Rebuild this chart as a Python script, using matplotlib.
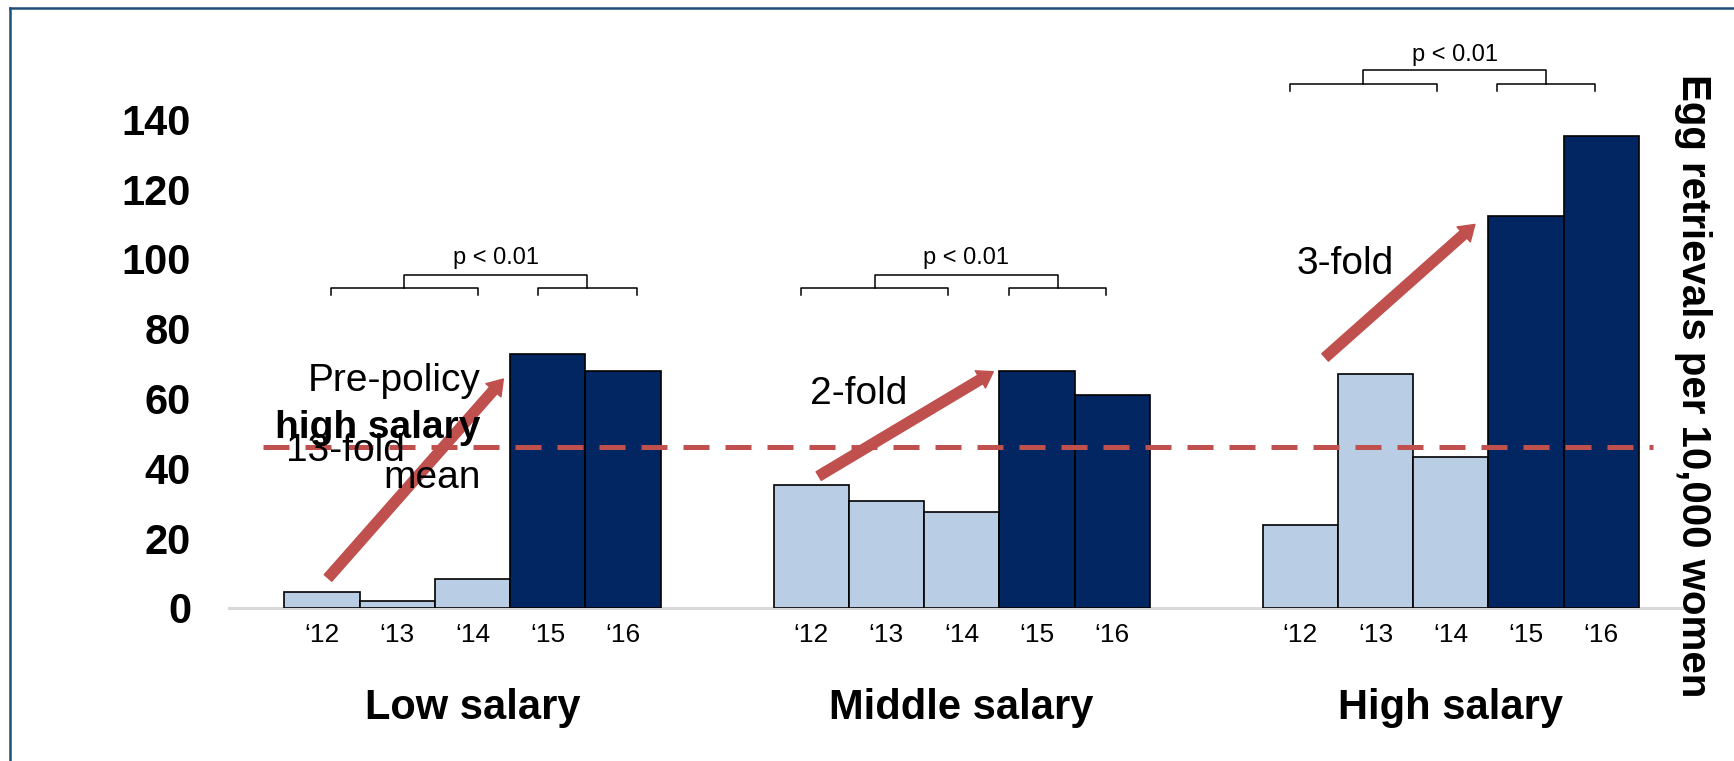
import matplotlib
matplotlib.use("Agg")
import matplotlib.pyplot as plt
import numpy as np
from matplotlib.lines import Line2D

plt.rcParams['font.family'] = ['Liberation Sans', 'DejaVu Sans']

# data
years = ['\u201812', '\u201813', '\u201814', '\u201815', '\u201816']
groups = ['Low salary', 'Middle salary', 'High salary']
low_salary = [4.7, 1.9, 8.3, 72.9, 68.0]
middle_salary = [35.3, 30.7, 27.4, 68.0, 61.0]
high_salary = [23.9, 67.0, 43.4, 112.2, 135.3]
pre_policy_high_mean = 46.2
fold_labels = ['13-fold', '2-fold', '3-fold']

light = '#B9CDE5'
dark = '#022662'
red = '#C0504D'
bar_colors = [light, light, light, dark, dark]

fig = plt.figure(figsize=(17.34, 7.61), dpi=100)
ax = fig.add_axes([228.6 / 1734, 0.2011, (1695 - 228.6) / 1734, 0.7337])

group_starts = [0, 6.5, 13]
all_vals = [low_salary, middle_salary, high_salary]
tick_pos = []
tick_lab = []
for g, start in enumerate(group_starts):
    x = start + np.arange(len(years)) + 0.5
    ax.bar(x, all_vals[g], width=1.0, color=bar_colors, edgecolor='black', linewidth=1.2, zorder=2)
    tick_pos += list(x)
    tick_lab += years
    # group label below the years
    ax.text(start + 2.5, -28.8, groups[g], ha='center', va='center',
            fontsize=30, fontweight='bold', clip_on=False)

ax.set_xlim(-0.741, 18.745)
ax.set_ylim(0, 160)
ax.set_yticks(np.arange(0, 141, 20))
ax.set_xticks(tick_pos)
ax.set_xticklabels(tick_lab, fontsize=19)
for lab in ax.get_yticklabels():
    lab.set_fontsize(30)
    lab.set_fontweight('bold')
ax.tick_params(axis='y', length=0, pad=27)
ax.tick_params(axis='x', length=0, pad=11)
for s in ['left', 'right', 'top']:
    ax.spines[s].set_visible(False)
ax.spines['bottom'].set_color('#D9D9D9')
ax.spines['bottom'].set_linewidth(2.2)
ax.spines['bottom'].set_zorder(1)

# pre-policy mean line
ax.plot([-0.28, 18.19], [pre_policy_high_mean] * 2, color=red, lw=3.6,
        dashes=(5.2, 3.2), zorder=3)

# significance brackets: (left pair, right pair, lower level, upper level, text level)
brackets = [
    ((0.62, 2.57), (3.37, 4.68), 91.6, 95.5, 100.3),
    ((6.87, 8.82), (9.63, 10.92), 91.6, 95.5, 100.3),
    ((13.36, 15.31), (16.12, 17.42), 150.2, 154.3, 158.5),
]
for (l0, l1), (r0, r1), lo, hi, ptxt in brackets:
    for a, b in [(l0, l1), (r0, r1)]:
        ax.plot([a, a, b, b], [lo - 2, lo, lo, lo - 2], color='black', lw=1.1, clip_on=False)
    ml, mr = (l0 + l1) / 2, (r0 + r1) / 2
    ax.plot([ml, ml, mr, mr], [lo, hi, hi, lo], color='black', lw=1.1, clip_on=False)
    ax.text((ml + mr) / 2, ptxt, 'p < 0.01', ha='center', va='center', fontsize=17, clip_on=False)

# arrows
arrows = [((0.58, 8.6), (2.91, 65.6)),
          ((7.10, 37.8), (9.42, 67.7)),
          ((13.83, 71.8), (15.82, 109.9))]
for start, tip in arrows:
    ax.annotate('', xy=tip, xytext=start,
                arrowprops=dict(arrowstyle='simple,head_length=1.08,head_width=1.44,tail_width=0.72',
                                mutation_scale=10, color=red, shrinkA=0, shrinkB=0),
                zorder=4)

# annotation texts
ax.text(2.61, 64.9, 'Pre-policy', ha='right', va='center', fontsize=28, zorder=5)
ax.text(2.61, 51.7, 'high salary', ha='right', va='center', fontsize=28, fontweight='bold', zorder=5)
ax.text(2.61, 37.1, 'mean', ha='right', va='center', fontsize=28, zorder=5)
ax.text(0.02, 44.9, fold_labels[0], ha='left', va='center', fontsize=28, zorder=5)
ax.text(7.63, 61.2, fold_labels[1], ha='center', va='center', fontsize=28, zorder=5)
ax.text(14.09, 98.6, fold_labels[2], ha='center', va='center', fontsize=28, zorder=5)

# right side label
fig.text(1693 / 1734, (761 - 386) / 761, 'Egg retrievals per 10,000 women', rotation=270,
         ha='center', va='center', fontsize=29, fontweight='bold')

# slide frame (left and top edges visible)
frame = '#1F4E79'
fig.add_artist(Line2D([9.5 / 1734, 9.5 / 1734], [0, 1 - 8 / 761], transform=fig.transFigure,
                      color=frame, lw=1.8))
fig.add_artist(Line2D([9.5 / 1734, 1], [1 - 8 / 761, 1 - 8 / 761], transform=fig.transFigure,
                      color=frame, lw=1.8))

fig.savefig('out.png', dpi=100)
